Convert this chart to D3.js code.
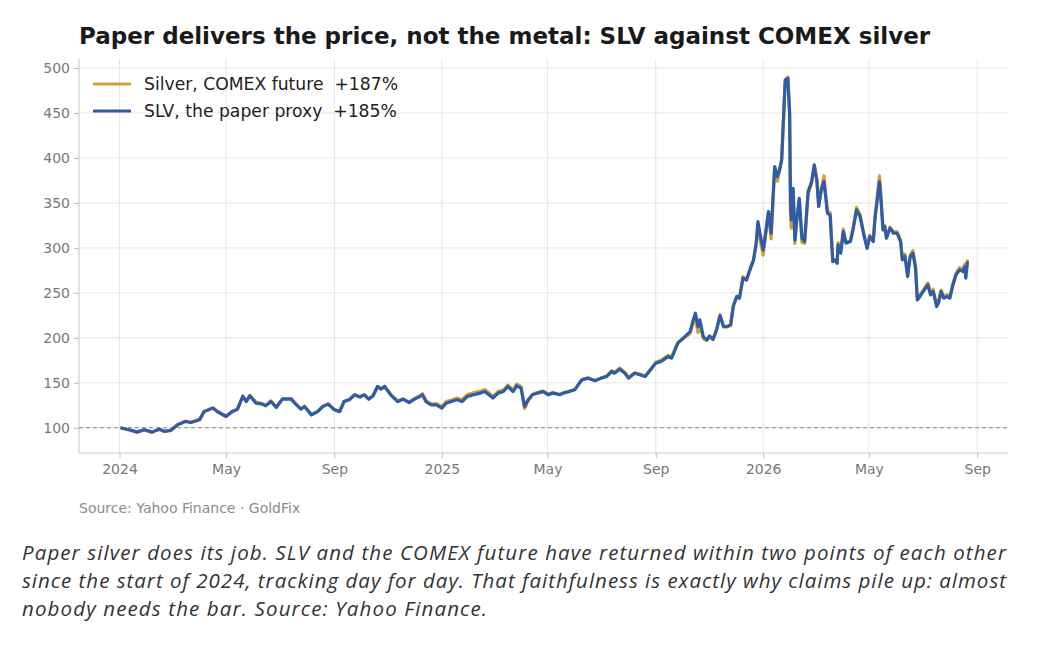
<!DOCTYPE html>
<html>
<head>
<meta charset="utf-8">
<script src="https://cdn.jsdelivr.net/npm/d3@7"></script>
<style>
  body { margin: 0; background: #fff; }
  svg { display: block; }
</style>
</head>
<body>
<div id="chart"></div>
<script>
// values indexed to 100 at the first trading day of 2024
const dates = [
  '2024-01-02','2024-01-12','2024-01-21','2024-01-29','2024-02-07','2024-02-15','2024-02-21','2024-02-28',
  '2024-03-07','2024-03-16','2024-03-22','2024-04-01','2024-04-06','2024-04-16','2024-04-21','2024-05-01',
  '2024-05-08','2024-05-14','2024-05-20','2024-05-24','2024-05-28','2024-06-04','2024-06-11','2024-06-15',
  '2024-06-21','2024-06-27','2024-07-04','2024-07-14','2024-07-18','2024-07-25','2024-07-29','2024-08-06',
  '2024-08-13','2024-08-19','2024-08-25','2024-09-01','2024-09-07','2024-09-12','2024-09-18','2024-09-24',
  '2024-09-30','2024-10-05','2024-10-10','2024-10-15','2024-10-20','2024-10-24','2024-10-28','2024-11-04',
  '2024-11-12','2024-11-18','2024-11-25','2024-12-01','2024-12-07','2024-12-10','2024-12-14','2024-12-20',
  '2024-12-26','2025-01-01','2025-01-06','2025-01-12','2025-01-18','2025-01-24','2025-01-30','2025-02-06',
  '2025-02-14','2025-02-19','2025-02-28','2025-03-06','2025-03-12','2025-03-17','2025-03-23','2025-03-27',
  '2025-04-01','2025-04-05','2025-04-09','2025-04-14','2025-04-20','2025-04-26','2025-05-02','2025-05-07',
  '2025-05-15','2025-05-19','2025-05-26','2025-06-01','2025-06-09','2025-06-16','2025-06-24','2025-07-01',
  '2025-07-07','2025-07-13','2025-07-16','2025-07-22','2025-07-28','2025-08-01','2025-08-08','2025-08-14',
  '2025-08-20','2025-08-26','2025-09-01','2025-09-07','2025-09-15','2025-09-19','2025-09-26','2025-10-04',
  '2025-10-10','2025-10-13','2025-10-16','2025-10-19','2025-10-21','2025-10-25','2025-10-29','2025-11-01',
  '2025-11-05','2025-11-09','2025-11-13','2025-11-17','2025-11-21','2025-11-25','2025-11-28','2025-12-02',
  '2025-12-05','2025-12-09','2025-12-13','2025-12-17','2025-12-21','2025-12-24','2025-12-26','2025-12-29',
  '2026-01-01','2026-01-07','2026-01-10','2026-01-14','2026-01-17','2026-01-20','2026-01-22','2026-01-26',
  '2026-01-29','2026-01-31','2026-02-01','2026-02-02','2026-02-04','2026-02-06','2026-02-08','2026-02-11',
  '2026-02-14','2026-02-17','2026-02-21','2026-02-25','2026-02-28','2026-03-03','2026-03-05','2026-03-08',
  '2026-03-11','2026-03-15','2026-03-18','2026-03-21','2026-03-23','2026-03-26','2026-03-27','2026-03-30',
  '2026-04-02','2026-04-05','2026-04-10','2026-04-13','2026-04-17','2026-04-21','2026-04-25','2026-04-29',
  '2026-05-02','2026-05-06','2026-05-08','2026-05-13','2026-05-14','2026-05-17','2026-05-19','2026-05-21',
  '2026-05-25','2026-05-29','2026-06-02','2026-06-06','2026-06-08','2026-06-11','2026-06-14','2026-06-17',
  '2026-06-20','2026-06-23','2026-06-25','2026-06-28','2026-07-03','2026-07-07','2026-07-10','2026-07-13',
  '2026-07-17','2026-07-19','2026-07-22','2026-07-25','2026-07-29','2026-08-01','2026-08-04','2026-08-08',
  '2026-08-12','2026-08-16','2026-08-18','2026-08-19','2026-08-21'
];

const slvValues = [
  100, 97.8, 95.2, 97.8, 95.2, 98.5, 96, 97,
  103.3, 107, 105.9, 108.9, 118, 121.9, 118, 112.6,
  118, 120.7, 134.8, 129.2, 135.6, 127.4, 126.3, 124.4,
  129.2, 122.6, 131.9, 131.9, 127.4, 120.7, 123.7, 114.4,
  118, 123.7, 126.3, 120, 118, 129.2, 131.1, 136.7,
  134.1, 136.7, 131.9, 135.6, 145.9, 143, 145.9, 136.7,
  129.2, 131.9, 128.1, 131.9, 134.8, 136.7, 129.2, 125.6,
  125.6, 121.9, 127.4, 129.2, 131.1, 129.2, 134.8, 136.7,
  138.6, 140.3, 133.1, 138.6, 140.3, 145.9, 140.3, 146.7,
  144.1, 123.7, 131.1, 136.7, 138.6, 140.3, 136.7, 138.6,
  136.7, 138.6, 140.3, 142.2, 153.3, 155.2, 152.2, 155.2,
  157, 162.6, 160.7, 165.2, 160.7, 155.2, 160.7, 158.9,
  157, 164.4, 171.9, 173.7, 179.2, 177.4, 194.1, 201.4,
  207, 218.1, 227.4, 212.6, 220, 201.4, 197.8, 202.2,
  198.6, 208.9, 224.4, 212.6, 212.6, 214.4, 234.8, 245.9,
  244.1, 266.3, 264.4, 275.6, 286.7, 305.2, 329.2, 312.6,
  297.8, 340.4, 316.3, 390.4, 379.2, 388.5, 397.8, 486.7,
  488.5, 449.6, 349.6, 331.1, 366.3, 308.9, 331.1, 355.2,
  310.7, 307, 362.6, 373.7, 392.2, 373.7, 346, 364.4,
  373.7, 338.5, 336.7, 284.8, 286.7, 283, 303.3, 294.1,
  318.1, 305.2, 307, 320, 342.2, 334.8, 316, 299.6,
  312.6, 307, 333, 373.7, 364, 320, 323.7, 310.7,
  321.9, 316.3, 316.3, 307, 286.7, 290.4, 268.1, 290.4,
  294.1, 277.4, 242.2, 246, 253.3, 258.9, 247.8, 251.5,
  234.8, 238.5, 251.5, 244.1, 245.9, 244.1, 257, 270,
  275.6, 273.7, 279.2, 266.3, 285
];

const comexValues = [
  100, 97.5, 95.5, 98, 95, 98.8, 96.3, 97,
  103.5, 107.5, 106, 109.5, 118.5, 122.3, 118.4, 113,
  118.3, 121, 135.4, 129.6, 136, 128.5, 127, 125,
  130, 123.2, 132.4, 132.5, 128, 121, 124, 114.8,
  118.3, 124, 126.6, 120.2, 118.3, 129.4, 131.5, 137,
  134.5, 137, 132.2, 135.9, 146, 143.3, 146.2, 137,
  129.5, 132.2, 128.6, 132.5, 135.5, 138, 130, 126.5,
  126.8, 123.5, 129.2, 131, 133, 131.2, 137, 139,
  141, 142.5, 135, 140.5, 142, 147.5, 142, 148.5,
  146, 121.5, 130, 137, 139.5, 141, 137.5, 139.2,
  137.2, 139, 140.8, 142.5, 153.5, 155.6, 152.5, 155.5,
  157.5, 163.5, 161.5, 166.5, 161.5, 156, 161.3, 159.5,
  157.5, 165, 173, 175, 180.5, 178.5, 194.5, 200.5,
  205, 215, 222, 206, 214, 199, 197, 201,
  198, 208.5, 226, 212, 212, 214, 236, 246.5,
  244, 268, 264, 277, 286, 303, 326, 306,
  292, 339, 310, 388, 374, 388, 400, 485,
  490, 452, 338, 322, 362, 305, 328, 354,
  306, 305, 360, 372, 392, 376, 348, 366,
  380, 341, 339, 285, 287, 283, 306, 296,
  321, 306, 308, 322, 345, 337, 317, 300,
  314, 308, 335, 380, 368, 323, 325, 312,
  323, 318, 318, 309, 289, 293, 270, 292,
  297, 280, 245, 248, 255, 261, 250, 254,
  237, 240, 253, 246, 248, 246, 259, 272,
  278, 276, 282, 268, 287
];

const seriesNames = ['Silver, COMEX future  +187%', 'SLV, the paper proxy  +185%'];
const seriesColors = ['#D39E34', '#2F5CA8'];
const yTicks = [100, 150, 200, 250, 300, 350, 400, 450, 500];
const xTickDates = ['2024-01-01','2024-05-01','2024-09-01','2025-01-01','2025-05-01','2025-09-01','2026-01-01','2026-05-01','2026-09-01'];
const xTickLabels = ['2024','May','Sep','2025','May','Sep','2026','May','Sep'];

const titleText = 'Paper delivers the price, not the metal: SLV against COMEX silver';
const sourceText = 'Source: Yahoo Finance · GoldFix';
const captionLines = [
  'Paper silver does its job. SLV and the COMEX future have returned within two points of each other',
  'since the start of 2024, tracking day for day. That faithfulness is exactly why claims pile up: almost',
  'nobody needs the bar. Source: Yahoo Finance.'
];

const W = 1060, H = 648;
const plot = { left: 79, right: 1008, top: 59, bottom: 453 };
const parse = d3.utcParse('%Y-%m-%d');

const svg = d3.select('#chart').append('svg')
  .attr('width', W).attr('height', H)
  .style('font-family', '"DejaVu Sans", sans-serif');

const x = d3.scaleUtc()
  .domain([parse('2023-11-16'), parse('2026-10-06')])
  .range([plot.left, plot.right]);
const y = d3.scaleLinear()
  .domain([72, 510])
  .range([plot.bottom, plot.top]);

// grid
const grid = svg.append('g').attr('stroke', '#e6e6e6').attr('stroke-width', 1);
grid.selectAll('.hg').data(yTicks).join('line')
  .attr('x1', plot.left).attr('x2', plot.right)
  .attr('y1', d => y(d)).attr('y2', d => y(d));
grid.selectAll('.vg').data(xTickDates).join('line')
  .attr('x1', d => x(parse(d))).attr('x2', d => x(parse(d)))
  .attr('y1', plot.top).attr('y2', plot.bottom);

// axes
const yAxis = svg.append('g')
  .attr('transform', `translate(${plot.left},0)`)
  .call(d3.axisLeft(y).tickValues(yTicks).tickSize(5).tickPadding(4));
const xAxis = svg.append('g')
  .attr('transform', `translate(0,${plot.bottom})`)
  .call(d3.axisBottom(x).tickValues(xTickDates.map(parse))
    .tickFormat((d, i) => xTickLabels[i]).tickSize(5).tickPadding(6));
[yAxis, xAxis].forEach(g => {
  g.select('.domain').attr('stroke', '#cfcfcf').attr('stroke-width', 1.2);
  g.selectAll('.tick line').attr('stroke', '#bdbdbd');
  g.selectAll('.tick text').attr('fill', '#777').style('font-size', '14px')
    .style('font-family', '"DejaVu Sans", sans-serif');
});
yAxis.select('.domain').attr('d', `M0,${plot.top}V${plot.bottom}`);
xAxis.select('.domain').attr('d', `M${plot.left},0H${plot.right}`);

// baseline at 100
svg.append('line')
  .attr('x1', plot.left).attr('x2', plot.right)
  .attr('y1', y(100)).attr('y2', y(100))
  .attr('stroke', '#8a8a8a').attr('stroke-width', 1.1)
  .attr('stroke-dasharray', '4,3');

// lines
const line = d3.line()
  .x((d, i) => x(parse(dates[i])))
  .y(d => y(d));
svg.append('path').datum(comexValues)
  .attr('fill', 'none').attr('stroke', seriesColors[0])
  .attr('stroke-width', 3.2).attr('stroke-linejoin', 'round')
  .attr('d', line);
svg.append('path').datum(slvValues)
  .attr('fill', 'none').attr('stroke', seriesColors[1])
  .attr('stroke-width', 3.2).attr('stroke-linejoin', 'round')
  .attr('d', line);

// legend
const legend = svg.append('g').attr('transform', 'translate(93,84)');
seriesNames.forEach((name, i) => {
  const row = legend.append('g').attr('transform', `translate(0,${i * 27})`);
  row.append('line').attr('x1', 0).attr('x2', 38).attr('y1', 0).attr('y2', 0)
    .attr('stroke', seriesColors[i]).attr('stroke-width', 3);
  row.append('text').attr('x', 51).attr('y', 0).attr('dy', '0.35em')
    .attr('fill', '#222').style('font-size', '17.2px')
    .style('white-space', 'pre').text(name);
});

// title
svg.append('text').attr('x', 79).attr('y', 44)
  .attr('fill', '#1a1a1a').style('font-weight', 'bold').style('font-size', '23px')
  .text(titleText);

// source
svg.append('text').attr('x', 79).attr('y', 513)
  .attr('fill', '#8c8c8c').style('font-size', '14px')
  .text(sourceText);

// caption
const capWidths = [984, 984, 465];
svg.selectAll('.cap').data(captionLines).join('text')
  .attr('x', 22).attr('y', (d, i) => 560 + i * 28)
  .attr('fill', '#333').style('font-style', 'italic').style('font-size', '20.5px')
  .style('font-family', '"Open Sans", sans-serif')
  .attr('textLength', (d, i) => capWidths[i]).attr('lengthAdjust', 'spacing')
  .text(d => d);
</script>
</body>
</html>
